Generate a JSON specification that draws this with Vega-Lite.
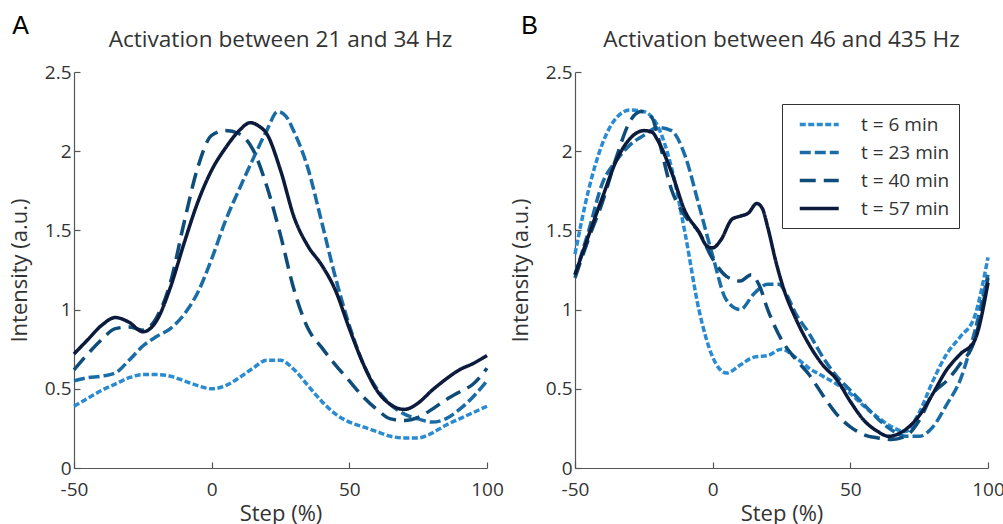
{
  "$schema": "https://vega.github.io/schema/vega-lite/v6.json",
  "background": "white",
  "padding": {"left": 8, "top": 14, "right": 5, "bottom": 0},
  "spacing": 5,
  "config": {
    "font": "Open Sans",
    "view": {"stroke": null},
    "axis": {
      "grid": false,
      "domainColor": "#555",
      "domainWidth": 1.2,
      "tickColor": "#555",
      "tickWidth": 1.2,
      "tickSize": -6,
      "labelFlush": false,
      "labelFont": "Open Sans",
      "labelFontSize": 19,
      "labelColor": "#333",
      "titleFont": "Open Sans",
      "titleFontSize": 22,
      "titleFontWeight": "normal",
      "titleColor": "#333"
    },
    "axisX": {"labelPadding": 18, "titlePadding": 4},
    "axisY": {"labelPadding": 9, "titlePadding": 13},
    "title": {"font": "Open Sans", "fontSize": 22.6, "fontWeight": "normal", "color": "#333", "offset": 11},
    "legend": {
      "labelFont": "Open Sans",
      "labelFontSize": 19,
      "labelColor": "#333",
      "strokeColor": "#333",
      "padding": 9,
      "rowPadding": 6,
      "symbolType": "M-1,0H3",
      "symbolSize": 380,
      "symbolOffset": 7,
      "symbolStrokeWidth": 3.5,
      "labelOffset": 40
    }
  },
  "datasets": {
    "left": [
      {"s": "t = 6 min", "x": -50, "y": 0.39}, {"s": "t = 6 min", "x": -45, "y": 0.44}, {"s": "t = 6 min", "x": -40, "y": 0.49}, {"s": "t = 6 min", "x": -35, "y": 0.53}, {"s": "t = 6 min", "x": -30, "y": 0.57}, {"s": "t = 6 min", "x": -25, "y": 0.59}, {"s": "t = 6 min", "x": -20, "y": 0.59}, {"s": "t = 6 min", "x": -15, "y": 0.58}, {"s": "t = 6 min", "x": -10, "y": 0.55}, {"s": "t = 6 min", "x": -5, "y": 0.52}, {"s": "t = 6 min", "x": 0, "y": 0.50}, {"s": "t = 6 min", "x": 5, "y": 0.52}, {"s": "t = 6 min", "x": 10, "y": 0.57}, {"s": "t = 6 min", "x": 15, "y": 0.63}, {"s": "t = 6 min", "x": 20, "y": 0.68}, {"s": "t = 6 min", "x": 25, "y": 0.68}, {"s": "t = 6 min", "x": 30, "y": 0.62}, {"s": "t = 6 min", "x": 35, "y": 0.52}, {"s": "t = 6 min", "x": 40, "y": 0.42}, {"s": "t = 6 min", "x": 45, "y": 0.34}, {"s": "t = 6 min", "x": 50, "y": 0.29}, {"s": "t = 6 min", "x": 55, "y": 0.26}, {"s": "t = 6 min", "x": 60, "y": 0.23}, {"s": "t = 6 min", "x": 65, "y": 0.20}, {"s": "t = 6 min", "x": 70, "y": 0.19}, {"s": "t = 6 min", "x": 75, "y": 0.19}, {"s": "t = 6 min", "x": 80, "y": 0.22}, {"s": "t = 6 min", "x": 85, "y": 0.27}, {"s": "t = 6 min", "x": 90, "y": 0.31}, {"s": "t = 6 min", "x": 95, "y": 0.35}, {"s": "t = 6 min", "x": 100, "y": 0.39},
      {"s": "t = 23 min", "x": -50, "y": 0.55}, {"s": "t = 23 min", "x": -45, "y": 0.57}, {"s": "t = 23 min", "x": -40, "y": 0.58}, {"s": "t = 23 min", "x": -35, "y": 0.60}, {"s": "t = 23 min", "x": -30, "y": 0.68}, {"s": "t = 23 min", "x": -25, "y": 0.77}, {"s": "t = 23 min", "x": -20, "y": 0.83}, {"s": "t = 23 min", "x": -15, "y": 0.88}, {"s": "t = 23 min", "x": -10, "y": 0.97}, {"s": "t = 23 min", "x": -5, "y": 1.11}, {"s": "t = 23 min", "x": 0, "y": 1.32}, {"s": "t = 23 min", "x": 5, "y": 1.56}, {"s": "t = 23 min", "x": 10, "y": 1.76}, {"s": "t = 23 min", "x": 15, "y": 1.95}, {"s": "t = 23 min", "x": 20, "y": 2.13}, {"s": "t = 23 min", "x": 24, "y": 2.25}, {"s": "t = 23 min", "x": 27, "y": 2.22}, {"s": "t = 23 min", "x": 30, "y": 2.12}, {"s": "t = 23 min", "x": 35, "y": 1.89}, {"s": "t = 23 min", "x": 40, "y": 1.55}, {"s": "t = 23 min", "x": 45, "y": 1.20}, {"s": "t = 23 min", "x": 50, "y": 0.90}, {"s": "t = 23 min", "x": 55, "y": 0.66}, {"s": "t = 23 min", "x": 60, "y": 0.50}, {"s": "t = 23 min", "x": 65, "y": 0.40}, {"s": "t = 23 min", "x": 70, "y": 0.34}, {"s": "t = 23 min", "x": 75, "y": 0.31}, {"s": "t = 23 min", "x": 80, "y": 0.29}, {"s": "t = 23 min", "x": 85, "y": 0.31}, {"s": "t = 23 min", "x": 90, "y": 0.37}, {"s": "t = 23 min", "x": 95, "y": 0.45}, {"s": "t = 23 min", "x": 100, "y": 0.55},
      {"s": "t = 40 min", "x": -50, "y": 0.62}, {"s": "t = 40 min", "x": -45, "y": 0.72}, {"s": "t = 40 min", "x": -40, "y": 0.81}, {"s": "t = 40 min", "x": -35, "y": 0.88}, {"s": "t = 40 min", "x": -30, "y": 0.89}, {"s": "t = 40 min", "x": -25, "y": 0.87}, {"s": "t = 40 min", "x": -20, "y": 0.95}, {"s": "t = 40 min", "x": -15, "y": 1.17}, {"s": "t = 40 min", "x": -10, "y": 1.55}, {"s": "t = 40 min", "x": -5, "y": 1.90}, {"s": "t = 40 min", "x": 0, "y": 2.10}, {"s": "t = 40 min", "x": 5, "y": 2.13}, {"s": "t = 40 min", "x": 10, "y": 2.11}, {"s": "t = 40 min", "x": 15, "y": 2.01}, {"s": "t = 40 min", "x": 20, "y": 1.78}, {"s": "t = 40 min", "x": 25, "y": 1.47}, {"s": "t = 40 min", "x": 30, "y": 1.12}, {"s": "t = 40 min", "x": 35, "y": 0.88}, {"s": "t = 40 min", "x": 40, "y": 0.76}, {"s": "t = 40 min", "x": 45, "y": 0.65}, {"s": "t = 40 min", "x": 50, "y": 0.55}, {"s": "t = 40 min", "x": 55, "y": 0.45}, {"s": "t = 40 min", "x": 60, "y": 0.37}, {"s": "t = 40 min", "x": 65, "y": 0.31}, {"s": "t = 40 min", "x": 70, "y": 0.30}, {"s": "t = 40 min", "x": 75, "y": 0.32}, {"s": "t = 40 min", "x": 80, "y": 0.37}, {"s": "t = 40 min", "x": 85, "y": 0.43}, {"s": "t = 40 min", "x": 90, "y": 0.48}, {"s": "t = 40 min", "x": 95, "y": 0.53}, {"s": "t = 40 min", "x": 100, "y": 0.63},
      {"s": "t = 57 min", "x": -50, "y": 0.72}, {"s": "t = 57 min", "x": -45, "y": 0.81}, {"s": "t = 57 min", "x": -40, "y": 0.90}, {"s": "t = 57 min", "x": -35, "y": 0.95}, {"s": "t = 57 min", "x": -30, "y": 0.92}, {"s": "t = 57 min", "x": -25, "y": 0.86}, {"s": "t = 57 min", "x": -20, "y": 0.93}, {"s": "t = 57 min", "x": -15, "y": 1.14}, {"s": "t = 57 min", "x": -10, "y": 1.42}, {"s": "t = 57 min", "x": -5, "y": 1.68}, {"s": "t = 57 min", "x": 0, "y": 1.88}, {"s": "t = 57 min", "x": 5, "y": 2.02}, {"s": "t = 57 min", "x": 10, "y": 2.13}, {"s": "t = 57 min", "x": 14, "y": 2.18}, {"s": "t = 57 min", "x": 17, "y": 2.16}, {"s": "t = 57 min", "x": 20, "y": 2.11}, {"s": "t = 57 min", "x": 25, "y": 1.88}, {"s": "t = 57 min", "x": 30, "y": 1.58}, {"s": "t = 57 min", "x": 35, "y": 1.40}, {"s": "t = 57 min", "x": 40, "y": 1.28}, {"s": "t = 57 min", "x": 45, "y": 1.12}, {"s": "t = 57 min", "x": 50, "y": 0.88}, {"s": "t = 57 min", "x": 55, "y": 0.66}, {"s": "t = 57 min", "x": 60, "y": 0.49}, {"s": "t = 57 min", "x": 65, "y": 0.40}, {"s": "t = 57 min", "x": 70, "y": 0.37}, {"s": "t = 57 min", "x": 75, "y": 0.41}, {"s": "t = 57 min", "x": 80, "y": 0.49}, {"s": "t = 57 min", "x": 85, "y": 0.56}, {"s": "t = 57 min", "x": 90, "y": 0.62}, {"s": "t = 57 min", "x": 95, "y": 0.66}, {"s": "t = 57 min", "x": 100, "y": 0.71}
    ],
    "right": [
      {"s": "t = 6 min", "x": -50, "y": 1.35}, {"s": "t = 6 min", "x": -45, "y": 1.76}, {"s": "t = 6 min", "x": -40, "y": 2.05}, {"s": "t = 6 min", "x": -35, "y": 2.21}, {"s": "t = 6 min", "x": -30, "y": 2.26}, {"s": "t = 6 min", "x": -25, "y": 2.25}, {"s": "t = 6 min", "x": -20, "y": 2.16}, {"s": "t = 6 min", "x": -15, "y": 1.90}, {"s": "t = 6 min", "x": -10, "y": 1.48}, {"s": "t = 6 min", "x": -5, "y": 1.00}, {"s": "t = 6 min", "x": 0, "y": 0.70}, {"s": "t = 6 min", "x": 5, "y": 0.60}, {"s": "t = 6 min", "x": 10, "y": 0.65}, {"s": "t = 6 min", "x": 15, "y": 0.70}, {"s": "t = 6 min", "x": 20, "y": 0.71}, {"s": "t = 6 min", "x": 25, "y": 0.75}, {"s": "t = 6 min", "x": 30, "y": 0.70}, {"s": "t = 6 min", "x": 35, "y": 0.63}, {"s": "t = 6 min", "x": 40, "y": 0.58}, {"s": "t = 6 min", "x": 45, "y": 0.53}, {"s": "t = 6 min", "x": 50, "y": 0.47}, {"s": "t = 6 min", "x": 55, "y": 0.39}, {"s": "t = 6 min", "x": 60, "y": 0.32}, {"s": "t = 6 min", "x": 65, "y": 0.26}, {"s": "t = 6 min", "x": 70, "y": 0.23}, {"s": "t = 6 min", "x": 75, "y": 0.35}, {"s": "t = 6 min", "x": 80, "y": 0.55}, {"s": "t = 6 min", "x": 85, "y": 0.72}, {"s": "t = 6 min", "x": 90, "y": 0.83}, {"s": "t = 6 min", "x": 95, "y": 0.95}, {"s": "t = 6 min", "x": 100, "y": 1.33},
      {"s": "t = 23 min", "x": -50, "y": 1.22}, {"s": "t = 23 min", "x": -45, "y": 1.50}, {"s": "t = 23 min", "x": -40, "y": 1.80}, {"s": "t = 23 min", "x": -35, "y": 1.94}, {"s": "t = 23 min", "x": -30, "y": 2.04}, {"s": "t = 23 min", "x": -25, "y": 2.10}, {"s": "t = 23 min", "x": -20, "y": 2.15}, {"s": "t = 23 min", "x": -15, "y": 2.13}, {"s": "t = 23 min", "x": -10, "y": 1.97}, {"s": "t = 23 min", "x": -5, "y": 1.66}, {"s": "t = 23 min", "x": 0, "y": 1.34}, {"s": "t = 23 min", "x": 5, "y": 1.06}, {"s": "t = 23 min", "x": 10, "y": 1.00}, {"s": "t = 23 min", "x": 15, "y": 1.10}, {"s": "t = 23 min", "x": 20, "y": 1.16}, {"s": "t = 23 min", "x": 24, "y": 1.16}, {"s": "t = 23 min", "x": 27, "y": 1.09}, {"s": "t = 23 min", "x": 30, "y": 0.98}, {"s": "t = 23 min", "x": 35, "y": 0.85}, {"s": "t = 23 min", "x": 40, "y": 0.70}, {"s": "t = 23 min", "x": 45, "y": 0.58}, {"s": "t = 23 min", "x": 50, "y": 0.49}, {"s": "t = 23 min", "x": 55, "y": 0.40}, {"s": "t = 23 min", "x": 60, "y": 0.31}, {"s": "t = 23 min", "x": 65, "y": 0.24}, {"s": "t = 23 min", "x": 70, "y": 0.20}, {"s": "t = 23 min", "x": 75, "y": 0.20}, {"s": "t = 23 min", "x": 80, "y": 0.26}, {"s": "t = 23 min", "x": 85, "y": 0.40}, {"s": "t = 23 min", "x": 90, "y": 0.56}, {"s": "t = 23 min", "x": 95, "y": 0.85}, {"s": "t = 23 min", "x": 100, "y": 1.22},
      {"s": "t = 40 min", "x": -50, "y": 1.20}, {"s": "t = 40 min", "x": -45, "y": 1.45}, {"s": "t = 40 min", "x": -40, "y": 1.68}, {"s": "t = 40 min", "x": -35, "y": 1.96}, {"s": "t = 40 min", "x": -30, "y": 2.19}, {"s": "t = 40 min", "x": -26, "y": 2.25}, {"s": "t = 40 min", "x": -22, "y": 2.21}, {"s": "t = 40 min", "x": -20, "y": 2.10}, {"s": "t = 40 min", "x": -15, "y": 1.76}, {"s": "t = 40 min", "x": -10, "y": 1.59}, {"s": "t = 40 min", "x": -5, "y": 1.49}, {"s": "t = 40 min", "x": 0, "y": 1.32}, {"s": "t = 40 min", "x": 5, "y": 1.21}, {"s": "t = 40 min", "x": 10, "y": 1.18}, {"s": "t = 40 min", "x": 14, "y": 1.22}, {"s": "t = 40 min", "x": 17, "y": 1.15}, {"s": "t = 40 min", "x": 20, "y": 1.00}, {"s": "t = 40 min", "x": 25, "y": 0.81}, {"s": "t = 40 min", "x": 30, "y": 0.69}, {"s": "t = 40 min", "x": 35, "y": 0.59}, {"s": "t = 40 min", "x": 40, "y": 0.46}, {"s": "t = 40 min", "x": 45, "y": 0.34}, {"s": "t = 40 min", "x": 50, "y": 0.26}, {"s": "t = 40 min", "x": 55, "y": 0.21}, {"s": "t = 40 min", "x": 60, "y": 0.19}, {"s": "t = 40 min", "x": 65, "y": 0.18}, {"s": "t = 40 min", "x": 70, "y": 0.20}, {"s": "t = 40 min", "x": 75, "y": 0.30}, {"s": "t = 40 min", "x": 80, "y": 0.47}, {"s": "t = 40 min", "x": 85, "y": 0.55}, {"s": "t = 40 min", "x": 90, "y": 0.66}, {"s": "t = 40 min", "x": 95, "y": 0.80}, {"s": "t = 40 min", "x": 100, "y": 1.20},
      {"s": "t = 57 min", "x": -50, "y": 1.22}, {"s": "t = 57 min", "x": -45, "y": 1.47}, {"s": "t = 57 min", "x": -40, "y": 1.71}, {"s": "t = 57 min", "x": -35, "y": 1.94}, {"s": "t = 57 min", "x": -30, "y": 2.08}, {"s": "t = 57 min", "x": -25, "y": 2.13}, {"s": "t = 57 min", "x": -22, "y": 2.12}, {"s": "t = 57 min", "x": -20, "y": 2.07}, {"s": "t = 57 min", "x": -15, "y": 1.87}, {"s": "t = 57 min", "x": -10, "y": 1.62}, {"s": "t = 57 min", "x": -5, "y": 1.49}, {"s": "t = 57 min", "x": -2, "y": 1.40}, {"s": "t = 57 min", "x": 0, "y": 1.39}, {"s": "t = 57 min", "x": 3, "y": 1.44}, {"s": "t = 57 min", "x": 7, "y": 1.57}, {"s": "t = 57 min", "x": 10, "y": 1.59}, {"s": "t = 57 min", "x": 13, "y": 1.61}, {"s": "t = 57 min", "x": 16, "y": 1.67}, {"s": "t = 57 min", "x": 18, "y": 1.64}, {"s": "t = 57 min", "x": 20, "y": 1.52}, {"s": "t = 57 min", "x": 23, "y": 1.30}, {"s": "t = 57 min", "x": 26, "y": 1.12}, {"s": "t = 57 min", "x": 30, "y": 0.95}, {"s": "t = 57 min", "x": 35, "y": 0.78}, {"s": "t = 57 min", "x": 40, "y": 0.65}, {"s": "t = 57 min", "x": 45, "y": 0.56}, {"s": "t = 57 min", "x": 50, "y": 0.42}, {"s": "t = 57 min", "x": 55, "y": 0.30}, {"s": "t = 57 min", "x": 60, "y": 0.23}, {"s": "t = 57 min", "x": 64, "y": 0.20}, {"s": "t = 57 min", "x": 68, "y": 0.22}, {"s": "t = 57 min", "x": 75, "y": 0.33}, {"s": "t = 57 min", "x": 80, "y": 0.47}, {"s": "t = 57 min", "x": 85, "y": 0.62}, {"s": "t = 57 min", "x": 90, "y": 0.72}, {"s": "t = 57 min", "x": 95, "y": 0.80}, {"s": "t = 57 min", "x": 100, "y": 1.17}
    ]
  },
  "resolve": {"legend": {"color": "independent", "strokeDash": "independent"}},
  "hconcat": [
    {
      "title": {"text": "A", "anchor": "start", "frame": "bounds", "font": "Liberation Sans", "fontSize": 25, "color": "#000", "offset": -10, "dx": 4},
      "hconcat": [
        {
          "width": 413,
          "height": 396,
          "title": "Activation between 21 and 34 Hz",
          "data": {"name": "left"},
          "mark": {"type": "line", "interpolate": "monotone", "strokeWidth": 3.5, "strokeCap": "butt"},
          "encoding": {
            "x": {"field": "x", "type": "quantitative", "title": "Step (%)", "scale": {"domain": [-50, 100], "nice": false}, "axis": {"values": [-50, 0, 50, 100], "labelExpr": "'' + datum.value"}},
            "y": {"field": "y", "type": "quantitative", "title": "Intensity (a.u.)", "scale": {"domain": [0, 2.5], "nice": false}, "axis": {"values": [0, 0.5, 1, 1.5, 2, 2.5], "labelExpr": "'' + datum.value"}},
            "color": {"field": "s", "type": "nominal", "scale": {"domain": ["t = 6 min", "t = 23 min", "t = 40 min", "t = 57 min"], "range": ["#2a8bd2", "#1a6ca6", "#0e4c7a", "#0c1a3c"]}, "legend": null},
            "strokeDash": {"field": "s", "type": "nominal", "scale": {"domain": ["t = 6 min", "t = 23 min", "t = 40 min", "t = 57 min"], "range": [[6, 2.5], [11, 4], [16, 8], [1, 0]]}, "legend": null}
          }
        }
      ]
    },
    {
      "title": {"text": "B", "anchor": "start", "frame": "bounds", "font": "Liberation Sans", "fontSize": 25, "color": "#000", "offset": -10, "dx": 12},
      "hconcat": [
        {
          "width": 413,
          "height": 396,
          "title": "Activation between 46 and 435 Hz",
          "data": {"name": "right"},
          "mark": {"type": "line", "interpolate": "monotone", "strokeWidth": 3.5, "strokeCap": "butt"},
          "encoding": {
            "x": {"field": "x", "type": "quantitative", "title": "Step (%)", "scale": {"domain": [-50, 100], "nice": false}, "axis": {"values": [-50, 0, 50, 100], "labelExpr": "'' + datum.value"}},
            "y": {"field": "y", "type": "quantitative", "title": "Intensity (a.u.)", "scale": {"domain": [0, 2.5], "nice": false}, "axis": {"values": [0, 0.5, 1, 1.5, 2, 2.5], "labelExpr": "'' + datum.value"}},
            "color": {"field": "s", "type": "nominal", "title": null, "scale": {"domain": ["t = 6 min", "t = 23 min", "t = 40 min", "t = 57 min"], "range": ["#2a8bd2", "#1a6ca6", "#0e4c7a", "#0c1a3c"]}, "legend": {"orient": "none", "legendX": 207, "legendY": 32}},
            "strokeDash": {"field": "s", "type": "nominal", "title": null, "scale": {"domain": ["t = 6 min", "t = 23 min", "t = 40 min", "t = 57 min"], "range": [[6, 2.5], [11, 4], [16, 8], [1, 0]]}, "legend": {"orient": "none", "legendX": 207, "legendY": 32}}
          }
        }
      ]
    }
  ]
}
